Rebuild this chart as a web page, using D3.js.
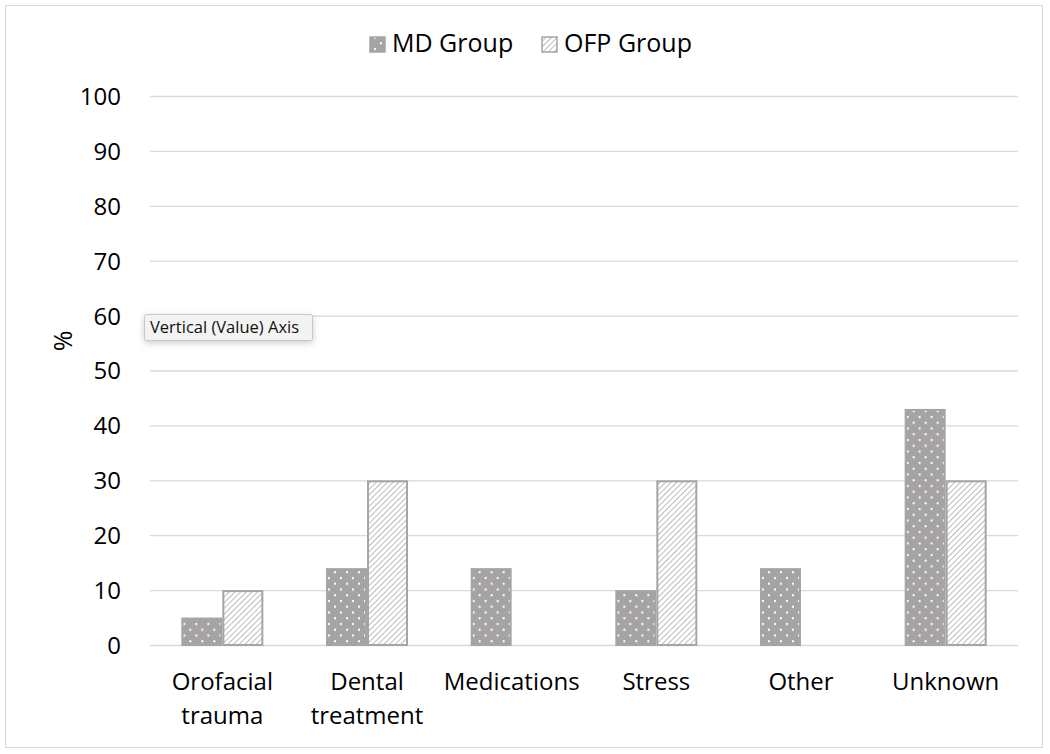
<!DOCTYPE html>
<html><head><meta charset="utf-8">
<script src="https://cdn.jsdelivr.net/npm/d3@7"></script>
<style>body{margin:0;background:#fff;}svg{display:block;font-family:"Open Sans",sans-serif;}</style>
</head><body>
<svg id="c" width="1050" height="754"></svg>
<script>
const categories = [["Orofacial","trauma"],["Dental","treatment"],["Medications"],["Stress"],["Other"],["Unknown"]];
const seriesNames = ["MD Group","OFP Group"];
const mdValues = [5,14,14,10,14,43];
const ofpValues = [10,30,0,30,0,30];
const yTicks = [0,10,20,30,40,50,60,70,80,90,100];

(function(){
const svg = d3.select("#c");
const defs = svg.append("defs");
const dots = defs.append("pattern").attr("id","dots").attr("patternUnits","userSpaceOnUse").attr("width",12).attr("height",11.5);
dots.append("rect").attr("width",12).attr("height",11.5).attr("fill","#a6a3a3");
dots.append("rect").attr("x",2).attr("y",2).attr("width",2).attr("height",2).attr("fill","#fff");
dots.append("rect").attr("x",8).attr("y",7.75).attr("width",2).attr("height",2).attr("fill","#fff");
const hatch = defs.append("pattern").attr("id","hatch").attr("patternUnits","userSpaceOnUse").attr("width",4).attr("height",4).attr("patternTransform","rotate(45)");
hatch.append("rect").attr("width",4).attr("height",4).attr("fill","#fff");
hatch.append("line").attr("x1",0).attr("y1",0).attr("x2",0).attr("y2",4).attr("stroke","#bdbbbb").attr("stroke-width",2);

svg.append("rect").attr("x",5.5).attr("y",5.5).attr("width",1037).attr("height",742).attr("fill","#fff").attr("stroke","#d9d9d9");

const pl=150,pr=1018,pt=96,pb=645;
const x = d3.scaleBand().domain(d3.range(categories.length)).range([pl,pr]).paddingInner(0.433).paddingOuter(0.2165);
const x1 = d3.scaleBand().domain([0,1]).range([0,x.bandwidth()]);
const y = d3.scaleLinear().domain([0,100]).range([pb,pt]);

svg.append("g").selectAll("line").data(yTicks).join("line")
  .attr("x1",pl).attr("x2",pr).attr("y1",d=>y(d)+0.5).attr("y2",d=>y(d)+0.5)
  .attr("stroke","#d9d9d9").attr("stroke-width",1.3);

const yAxis = svg.append("g").attr("transform",`translate(${pl},0)`).call(d3.axisLeft(y).tickValues(yTicks).tickSize(0).tickPadding(29));
yAxis.select(".domain").remove();
yAxis.selectAll("text").attr("font-size",24).attr("fill","#000").attr("font-family","Open Sans, sans-serif").attr("dy","0.35em");

const data = categories.map((c,i)=>[mdValues[i],ofpValues[i]]);
const fills=["url(#dots)","url(#hatch)"];
const g = svg.append("g").selectAll("g").data(data).join("g").attr("transform",(d,i)=>`translate(${x(i)},0)`);
g.selectAll("rect").data(d=>d.map((v,j)=>({v,j})).filter(o=>o.v>0)).join("rect")
  .attr("x",o=>x1(o.j)+1).attr("width",x1.bandwidth()-2)
  .attr("y",o=>y(o.v)+1).attr("height",o=>y(0)-y(o.v)-1)
  .attr("fill",o=>fills[o.j]).attr("stroke","#a5a5a5").attr("stroke-width",2);

const xl = svg.append("g");
categories.forEach((lines,i)=>{
  const t = xl.append("text").attr("x",x(i)+x.bandwidth()/2).attr("y",690).attr("text-anchor","middle").attr("font-size",24).attr("fill","#000");
  lines.forEach((l,k)=>t.append("tspan").attr("x",x(i)+x.bandwidth()/2).attr("dy",k?34:0).text(l));
});

svg.append("text").attr("transform","translate(72,341) rotate(-90)").attr("text-anchor","middle").attr("font-size",25).attr("fill","#000").text("%");

const leg = svg.append("g");
const lx=[369,541];
seriesNames.forEach((n,i)=>{
  leg.append("rect").attr("x",lx[i]+1).attr("y",37).attr("width",15).attr("height",15).attr("fill",fills[i]).attr("stroke","#a5a5a5").attr("stroke-width",1.5);
  leg.append("text").attr("x",lx[i]+23).attr("y",52).attr("font-size",25).attr("fill","#000").text(n);
});

const tip = svg.append("g");
tip.append("rect").attr("x",144.5).attr("y",314.5).attr("width",168).attr("height",26).attr("rx",2).attr("fill","#f3f3f3").attr("stroke","#c8c8c8").style("filter","drop-shadow(0 2px 3px rgba(0,0,0,0.2))");
tip.append("text").attr("x",150).attr("y",333).attr("font-size",16.5).attr("fill","#111").text("Vertical (Value) Axis");
})();
</script>
</body></html>
